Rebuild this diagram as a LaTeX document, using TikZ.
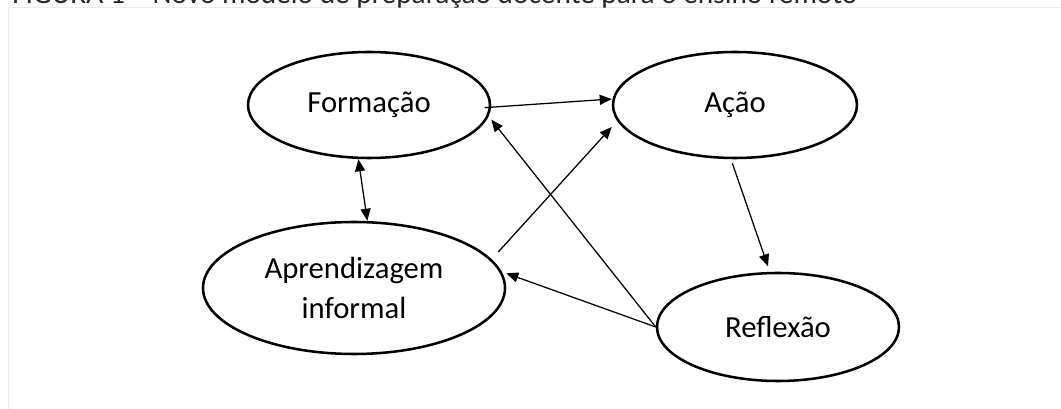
\documentclass[tikz,border=0pt]{standalone}
\usepackage{fontspec}
\setmainfont{Carlito}
\usetikzlibrary{arrows.meta, shapes.geometric, calc}
\tikzset{
    stage/.style={
        draw,
        ellipse,
        line width=1.9pt,
        inner sep=0pt,
        align=center,
        font=\fontsize{23}{30}\selectfont
    },
    link/.style={-{Triangle[length=9pt,width=7.5pt]}, line width=0.95pt},
    twolink/.style={{Triangle[length=9pt,width=7.5pt]}-{Triangle[length=9pt,width=7.5pt]}, line width=0.95pt}
}

\begin{document}
\begin{tikzpicture}[x=0.75pt,y=-0.75pt]

% page and frame
\useasboundingbox (0,0) rectangle (1061,409);
\draw[black!8, line width=0.75pt] (8,409) -- (8,8) -- (1061,8);

% caption, cut at the top
\node[anchor=base west, inner sep=0pt, font=\fontsize{22}{24}\selectfont, text=black!85] (caption) at (12,3.5)
{FIGURA 1 -- Novo modelo de preparação docente para o ensino remoto};

% stages
\node[stage, minimum width=181.5pt, minimum height=79.5pt] (form) at (369,105) {Formação};
\node[stage, minimum width=183pt, minimum height=79.5pt] (acao) at (735,105) {Ação};
\node[stage, minimum width=181.5pt, minimum height=81pt] (refl) at (778,327) {Reflexão};
\node[stage, minimum width=226.5pt, minimum height=99pt] (aprend) at (354,288) {Aprendizagem\\informal};

% connectors
\draw[link] ([xshift=-5pt,yshift=-2pt]form.east) -- ([yshift=4.5pt]acao.west);
\draw[twolink] ([xshift=-8pt]form.south) -- ([xshift=10pt]aprend.north);
\draw[link] ([xshift=-6pt,yshift=27pt]aprend.east) -- ([yshift=-16.5pt]acao.west);
\draw[link] (refl.west) -- ([yshift=-11pt]form.east);
\draw[link] (refl.west) -- ([yshift=11pt]aprend.east);
\draw[link] ([xshift=-2pt,yshift=-3pt]acao.south) -- ([xshift=-7.5pt,yshift=4pt]refl.north);

\end{tikzpicture}
\end{document}
